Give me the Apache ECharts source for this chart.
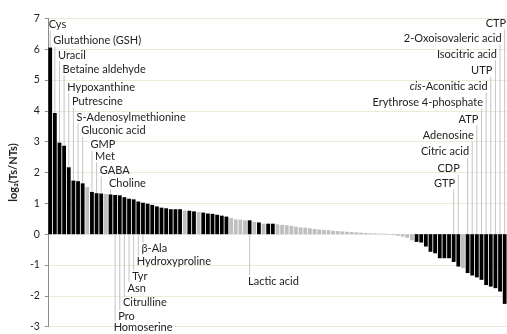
<!DOCTYPE html>
<html><head><meta charset="utf-8">
<script src="https://cdn.jsdelivr.net/npm/echarts@6/dist/echarts.min.js"></script>
<style>html,body{margin:0;padding:0;background:#fff}#c{width:507px;height:334px}</style>
</head><body><div id="c"></div>
<script>
// log2(Ts/NTs) per metabolite, sorted as in the figure (99 bars)
const values = [
  6.05, 3.93, 2.97, 2.87, 2.17, 1.74, 1.72, 1.65, 1.53, 1.37,
  1.33, 1.32, 1.31, 1.29, 1.27, 1.26, 1.20, 1.15, 1.13, 1.06,
  1.02, 0.99, 0.95, 0.90, 0.86, 0.84, 0.81, 0.81, 0.81, 0.77,
  0.76, 0.74, 0.72, 0.70, 0.67, 0.66, 0.63, 0.60, 0.57, 0.53,
  0.48, 0.47, 0.45, 0.45, 0.40, 0.38, 0.34, 0.34, 0.34, 0.32,
  0.30, 0.29, 0.27, 0.24, 0.22, 0.21, 0.19, 0.17, 0.15, 0.14,
  0.13, 0.11, 0.10, 0.09, 0.08, 0.07, 0.06, 0.05, 0.04, 0.03,
  0.03, 0.02, 0.02, -0.02, -0.03, -0.05, -0.08, -0.12, -0.20, -0.25,
  -0.27, -0.40, -0.57, -0.62, -0.78, -0.78, -0.78, -0.90, -1.05, -1.10,
  -1.26, -1.34, -1.40, -1.48, -1.65, -1.70, -1.75, -1.86, -2.26
];
// 1 = significant (black), 0 = not significant (grey)
const significant = [
  1,1,1,1,1,1,1,1,0,1,
  1,1,0,1,1,1,1,1,1,1,
  1,1,1,1,1,1,1,1,1,0,
  1,1,0,1,1,1,1,1,1,0,
  0,0,0,1,0,1,0,1,1,0,
  0,0,0,0,0,0,0,0,0,0,
  0,0,0,0,0,0,0,0,0,0,
  0,0,0,0,0,0,0,0,0,1,
  1,1,1,1,1,1,1,1,1,0,
  1,1,1,1,1,1,1,1,1
];
const yTicks = [-3, 7, 1]; // min, max, step
const annotNames = ['Cys','Glutathione (GSH)','Uracil','Betaine aldehyde','Hypoxanthine','Putrescine',
  'S-Adenosylmethionine','Gluconic acid','GMP','Met','GABA','Choline',
  'β-Ala','Hydroxyproline','Tyr','Asn','Citrulline','Pro','Homoserine','Lactic acid',
  'CTP','2-Oxoisovaleric acid','Isocitric acid','UTP','cis-Aconitic acid','Erythrose 4-phosphate',
  'ATP','Adenosine','Citric acid','CDP','GTP'];
const annotBars = [1,2,3,4,5,6,7,8,10,11,12,14,21,20,19,18,17,16,15,44,99,98,97,96,95,94,93,92,91,89,88];
</script>
<script>
// label placement (layout, in axis units)
const annotLevels = [6.8,6.28,5.81,5.35,4.77,4.29,3.78,3.35,2.9,2.52,2.06,1.65,
  -0.47,-0.89,-1.38,-1.75,-2.22,-2.66,-3.02,-1.52,
  6.84,6.35,5.84,5.3,4.78,4.27,3.73,3.21,2.67,2.13,1.64];
const FONT = 'Lato';
const chart = echarts.init(document.getElementById('c'), null, {renderer:'canvas'});
const cats = values.map((v,i)=>'m'+(i+1));
const annotData = annotBars.map((b,k)=>[b-1, annotLevels[k], k]);
chart.setOption({
  animation:false,
  grid:{left:40,right:0,top:18.3,bottom:7.3},
  xAxis:{type:'category',data:cats,axisLine:{show:false},axisTick:{show:false},axisLabel:{show:false},splitLine:{show:false}},
  yAxis:{type:'value',min:yTicks[0],max:yTicks[1],interval:yTicks[2],
    name:'log₂(Ts/NTs)',nameLocation:'middle',nameGap:21,
    nameTextStyle:{fontFamily:FONT,fontWeight:'bold',fontSize:11,color:'#222'},
    axisLine:{show:true,lineStyle:{color:'#8c8c8c'}},
    axisTick:{show:true,length:3,lineStyle:{color:'#8c8c8c'}},
    axisLabel:{fontFamily:FONT,fontSize:10.5,color:'#222',margin:8},
    splitLine:{lineStyle:{color:'#ebebdc'}}},
  series:[
    {type:'bar',barCategoryGap:'18%',
     data:values.map((v,i)=>({value:v,itemStyle:{color:significant[i]?'#000000':'#bfbfbf'}}))},
    {type:'custom',z:3,clip:false,data:annotData,
     renderItem:function(params,api){
       const i=api.value(0), lvl=api.value(1), k=api.value(2);
       const v=values[i];
       const start=(Math.sign(v)===Math.sign(lvl))?v:0;
       const p0=api.coord([i,start]);
       const pl=api.coord([i,lvl]);
       const above=lvl>start;
       const yEnd=above?pl[1]+6:pl[1]-6;
       const right=annotBars[k]>=80;
       let name=annotNames[k];
       const style={x:right?p0[0]+1.5:p0[0]-1.5,y:pl[1],align:right?'right':'left',verticalAlign:'middle',
         fontFamily:FONT,fontSize:11,fill:'#222'};
       if(name.indexOf('cis-')===0){
         style.text='{i|cis}{n|'+name.slice(3)+'}';
         style.rich={i:{fontStyle:'italic',fontFamily:FONT,fontSize:11,fill:'#222'},n:{fontFamily:FONT,fontSize:11,fill:'#222'}};
       } else style.text=name;
       return {type:'group',children:[
         {type:'line',shape:{x1:p0[0],y1:p0[1],x2:p0[0],y2:yEnd},style:{stroke:'#c4c4c4',lineWidth:1}},
         {type:'text',style:style}
       ]};
     }}
  ]
});
</script>
</body></html>
